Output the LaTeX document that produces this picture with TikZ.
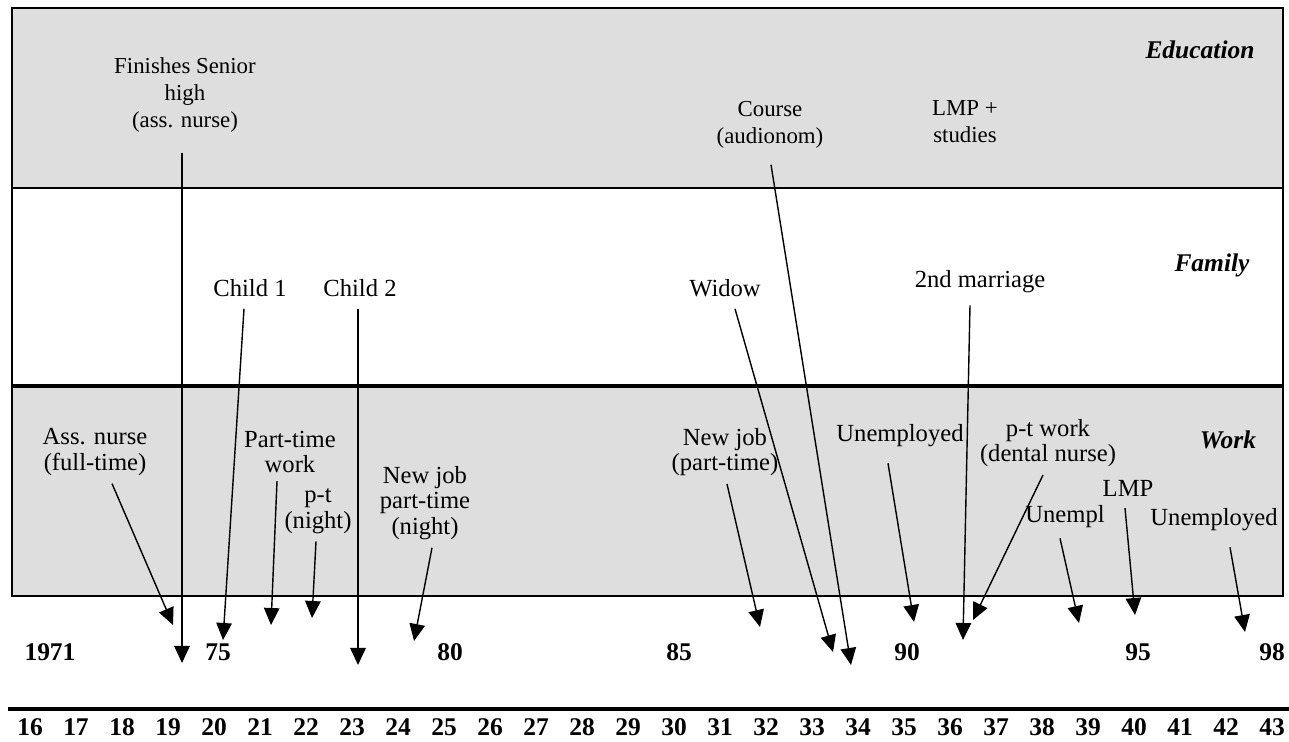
\documentclass[tikz,border=0pt]{standalone}
\usepackage{fontspec}
\setmainfont{Liberation Serif}
\usetikzlibrary{arrows.meta,positioning,calc}
\definecolor{Band}{gray}{0.87}
\tikzset{
  lbl/.style={font=\fontsize{14}{14.5}\selectfont,align=center,inner sep=1pt},
  edulbl/.style={lbl,font=\fontsize{13}{15.5}\selectfont},
  head/.style={font=\fontsize{14.5}{17}\selectfont\bfseries\itshape,inner sep=0pt},
  yearlbl/.style={font=\fontsize{14.5}{17}\selectfont\bfseries,inner sep=0pt},
  evarrow/.style={-{Triangle[length=3.4mm,width=3.1mm]},line width=0.8pt}
}

\begin{document}
\begin{tikzpicture}[x=0.2mm,y=-0.2mm]
  \useasboundingbox (0,0) rectangle (1289,742);
  % the three bands
  \fill[Band] (12,8) rectangle (1283,188);
  \fill[Band] (12,386) rectangle (1283,596);
  \draw[line width=1pt] (12,8) rectangle (1283,596);
  \draw[line width=1.2pt] (12,188) -- (1283,188);
  \draw[line width=2.2pt] (12,386) -- (1283,386);
  \node[head] (edu) at (1200,50) {Education};
  \node[head] (fam) at (1212,265) {Family};
  \node[head] (wrk) at (1228,440) {Work};

  % time axis
  \draw[line width=2.8pt] (8,709) -- (1289,709);
  \foreach \x/\yr in {50/1971,218/75,450/80,679/85,907/90,1138/95,1272/98}
    \node[yearlbl] (yr\yr) at (\x,652) {\yr};
  \foreach \a in {16,...,43}
    \node[yearlbl] (age\a) at ({30+46*(\a-16)},727) {\a};

  % education
  \node[edulbl] (finish) at (185,95) {Finishes Senior\\high\\(ass. nurse)};
  \node[edulbl] (course) at (770,125) {Course\\(audionom)};
  \node[edulbl] (lmpstud) at (965,122) {LMP +\\studies};
  % family
  \node[lbl] (child1) at (250,288) {Child 1};
  \node[lbl] (child2) at (360,288) {Child 2};
  \node[lbl] (widow) at (725,288) {Widow};
  \node[lbl] (marr2) at (980,282) {2nd marriage};
  % work
  \node[lbl] (asnurse) at (95,452) {Ass. nurse\\(full-time)};
  \node[lbl] (ptwork) at (290,452) {Part-time\\work};
  \node[lbl] (ptnight) at (318,511) {p-t\\(night)};
  \node[lbl] (newjobn) at (425,503) {New job\\part-time\\(night)};
  \node[lbl] (newjobp) at (725,452) {New job\\(part-time)};
  \node[lbl] (unemp1) at (900,436) {Unemployed};
  \node[lbl] (ptdental) at (1048,443) {p-t work\\(dental nurse)};
  \node[lbl] (unempl) at (1065,517) {Unempl};
  \node[lbl] (lmp) at (1128,488) {LMP};
  \node[lbl] (unemp2) at (1214,520) {Unemployed};

  % arrow tips
  \coordinate (tFinish) at (182,663);
  \coordinate (tCourse) at (851,665);
  \coordinate (tChild1) at (223,640);
  \coordinate (tChild2) at (358,665);
  \coordinate (tWidow) at (833,652);
  \coordinate (tMarr2) at (963,640);
  \coordinate (tAsnurse) at (173,625);
  \coordinate (tPtwork) at (271,625);
  \coordinate (tPtnight) at (312,618);
  \coordinate (tNewjobn) at (414,641);
  \coordinate (tNewjobp) at (760,627);
  \coordinate (tUnemp1) at (914,622);
  \coordinate (tPtdental) at (973,620);
  \coordinate (tUnempl) at (1079,623);
  \coordinate (tLmp) at (1135,615);
  \coordinate (tUnemp2) at (1245,632);

  \draw[evarrow] ($(finish.south)+(-3,18)$) -- (tFinish);
  \draw[evarrow] ($(course.south)+(1,14)$) -- (tCourse);
  \draw[evarrow] ($(child1.south)+(-6,10)$) -- (tChild1);
  \draw[evarrow] ($(child2.south)+(-2,10)$) -- (tChild2);
  \draw[evarrow] ($(widow.south)+(10,10)$) -- (tWidow);
  \draw[evarrow] ($(marr2.south)+(-10,10)$) -- (tMarr2);
  \draw[evarrow] ($(asnurse.south)+(17,6)$) -- (tAsnurse);
  \draw[evarrow] ($(ptwork.south)+(-13,6)$) -- (tPtwork);
  \draw[evarrow] ($(ptnight.south)+(-2,6)$) -- (tPtnight);
  \draw[evarrow] ($(newjobn.south)+(7,6)$) -- (tNewjobn);
  \draw[evarrow] ($(newjobp.south)+(2,6)$) -- (tNewjobp);
  \draw[evarrow] ($(unemp1.south)+(-12,14)$) -- (tUnemp1);
  \draw[evarrow] ($(ptdental.south)+(-5,6)$) -- (tPtdental);
  \draw[evarrow] ($(unempl.south)+(-5,8)$) -- (tUnempl);
  \draw[evarrow] ($(lmp.south)+(-3,10)$) -- (tLmp);
  \draw[evarrow] ($(unemp2.south)+(16,14)$) -- (tUnemp2);
\end{tikzpicture}
\end{document}
